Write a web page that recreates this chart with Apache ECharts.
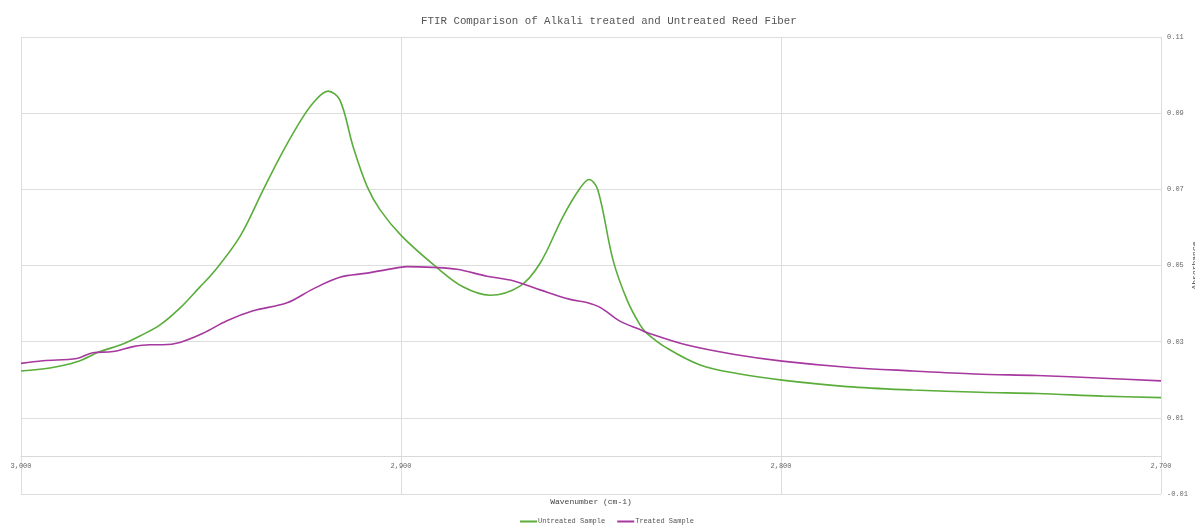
<!DOCTYPE html>
<html>
<head>
<meta charset="utf-8">
<script src="https://cdn.jsdelivr.net/npm/echarts@6/dist/echarts.min.js"></script>
<style>
html,body{margin:0;padding:0;background:#fff;}
#chart{width:1195px;height:525px;}
</style>
</head>
<body>
<div id="chart"></div>
<script>
const chartTitle = "FTIR Comparison of Alkali treated and Untreated Reed Fiber";
const xAxisName = "Wavenumber (cm-1)";
const yAxisName = "Absorbance";
const seriesNames = ["Untreated Sample", "Treated Sample"];

const untreatedWn = [3000, 2992.4, 2985.3, 2979.2, 2973.9, 2968.7, 2963.4, 2958.2, 2952.9, 2949.5, 2942.4, 2936.3, 2931.8, 2927.4, 2923.2, 2919.2, 2916.1, 2912.6, 2908.9, 2905.5, 2899.8, 2890.6, 2883.7, 2876.6, 2868.7, 2863.4, 2857.4, 2852.9, 2850.5, 2848.2, 2844.2, 2840.5, 2837.1, 2835.3, 2830.0, 2821.3, 2810.8, 2799.7, 2782.6, 2765.3, 2747.6, 2732.6, 2715.3, 2700];
const untreatedAbs = [0.0223, 0.0231, 0.0247, 0.0274, 0.0291, 0.0315, 0.0344, 0.0388, 0.0444, 0.0480, 0.0576, 0.0698, 0.0786, 0.0864, 0.0926, 0.0958, 0.0935, 0.0812, 0.0707, 0.0646, 0.0577, 0.0495, 0.0444, 0.0422, 0.0446, 0.0506, 0.0628, 0.0703, 0.0726, 0.0698, 0.0514, 0.0409, 0.0344, 0.0322, 0.0283, 0.0239, 0.0215, 0.0199, 0.0182, 0.0173, 0.0167, 0.0164, 0.0157, 0.0153];

const treatedWn = [3000, 2994.2, 2985.3, 2981.1, 2975.8, 2970.5, 2966.1, 2962.6, 2958.2, 2952.1, 2945.8, 2938.9, 2930.0, 2923.2, 2916.1, 2908.9, 2900.3, 2898.4, 2891.6, 2885.3, 2877.4, 2870.5, 2863.4, 2855.5, 2851.1, 2847.6, 2842.4, 2837.1, 2835.3, 2824.7, 2812.6, 2799.7, 2782.6, 2765.3, 2748.9, 2732.6, 2715.3, 2700];
const treatedAbs = [0.0243, 0.0250, 0.0256, 0.0271, 0.0274, 0.0287, 0.0292, 0.0292, 0.0298, 0.0322, 0.0355, 0.0381, 0.0402, 0.0438, 0.0469, 0.0480, 0.0495, 0.0497, 0.0495, 0.0490, 0.0472, 0.0460, 0.0436, 0.0411, 0.0403, 0.0390, 0.0354, 0.0332, 0.0324, 0.0291, 0.0267, 0.0249, 0.0233, 0.0223, 0.0215, 0.0211, 0.0204, 0.0197];

const FONT = '"Liberation Mono", "DejaVu Sans Mono", monospace';
const chart = echarts.init(document.getElementById('chart'), null, {renderer: 'canvas'});

chart.setOption({
  animation: false,
  backgroundColor: '#ffffff',
  title: {
    text: chartTitle,
    left: 416,
    top: 11,
    textStyle: {fontFamily: FONT, fontSize: 10.8, fontWeight: 'normal', color: '#555555'}
  },
  legend: {
    data: seriesNames,
    left: 520,
    bottom: 0,
    padding: 0,
    icon: 'rect',
    itemWidth: 17,
    itemHeight: 2,
    itemGap: 12,
    textStyle: {fontFamily: FONT, fontSize: 7, color: '#555555', padding: [0, 0, 0, -4]}
  },
  grid: {left: 21, right: 34, top: 37, bottom: 31, containLabel: false, outerBoundsMode: 'none'},
  xAxis: {
    type: 'value',
    inverse: true,
    min: 2700,
    max: 3000,
    interval: 100,
    position: 'bottom',
    offset: -38,
    name: xAxisName,
    nameLocation: 'middle',
    nameGap: 42,
    nameMoveOverlap: false,
    nameTextStyle: {fontFamily: FONT, fontSize: 8, color: '#444444'},
    axisLine: {show: true, onZero: false, lineStyle: {color: '#d9d9d9', width: 1}},
    axisTick: {show: false},
    axisLabel: {
      fontFamily: FONT, fontSize: 7, color: '#666666', margin: 7,
      showMinLabel: true, showMaxLabel: true,
      formatter: v => v.toLocaleString('en-US')
    },
    splitLine: {show: true, lineStyle: {color: '#dddddd', width: 1}}
  },
  yAxis: {
    type: 'value',
    position: 'right',
    min: -0.01,
    max: 0.11,
    interval: 0.02,
    name: yAxisName,
    nameLocation: 'middle',
    nameGap: 30,
    nameMoveOverlap: false,
    nameTextStyle: {fontFamily: FONT, fontSize: 8, color: '#444444'},
    axisLine: {show: false},
    axisTick: {show: false},
    axisLabel: {
      fontFamily: FONT, fontSize: 7, color: '#666666', margin: 6,
      formatter: v => v.toFixed(2)
    },
    splitLine: {show: true, lineStyle: {color: '#dddddd', width: 1}}
  },
  series: [
    {
      name: seriesNames[0],
      type: 'line',
      showSymbol: false,
      smooth: 0.35,
      lineStyle: {color: '#5aad3a', width: 1.6},
      itemStyle: {color: '#5aad3a'},
      data: untreatedWn.map((w, i) => [w, untreatedAbs[i]])
    },
    {
      name: seriesNames[1],
      type: 'line',
      showSymbol: false,
      smooth: 0.35,
      lineStyle: {color: '#a6389f', width: 1.6},
      itemStyle: {color: '#a6389f'},
      data: treatedWn.map((w, i) => [w, treatedAbs[i]])
    }
  ]
});
</script>
</body>
</html>
